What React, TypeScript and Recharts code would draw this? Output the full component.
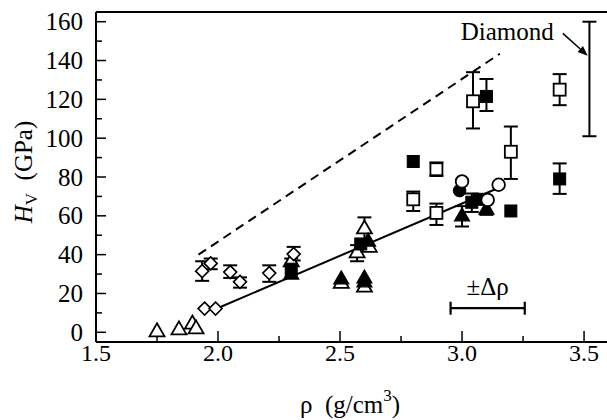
import React from 'react'
import {
  ScatterChart,
  Scatter,
  XAxis,
  YAxis,
  ErrorBar,
  ReferenceLine,
  ReferenceDot,
} from 'recharts'

const FONT = 'Times New Roman, Liberation Serif, Tinos, Nimbus Roman, DejaVu Serif, serif'
const TXT: React.CSSProperties = { fontFamily: FONT, whiteSpace: 'pre' }

// axis ticks
const X_TICKS = [1.5, 1.75, 2, 2.25, 2.5, 2.75, 3, 3.25, 3.5]
const Y_TICKS = [0, 10, 20, 30, 40, 50, 60, 70, 80, 90, 100, 110, 120, 130, 140, 150, 160]

// open diamonds with error bars
const diamondRho = [1.935, 1.97, 2.05, 2.09, 2.21, 2.31]
const diamondHv = [31.5, 35.5, 31, 26, 30.5, 40.3]
const diamondHi = [36.6, 38, 34.5, 28.3, 34.5, 44]
const diamondLo = [26.5, 32.5, 28, 23, 26, 37]
// open diamonds without error bars
const diamond2Rho = [1.945, 1.99]
const diamond2Hv = [12.2, 12.2]

// open triangles
const triRho = [1.75, 1.84, 1.895, 1.91, 2.3, 2.505, 2.6, 2.57, 2.6, 2.62]
const triHv = [0.5, 1.5, 4.5, 2, 36.5, 25.5, 23.5, 41.2, 53.5, 44]
const triHi = [null, null, null, null, null, null, null, 44.9, 59.2, null]
const triLo = [null, null, null, null, null, null, null, 36.6, 48, null]

// filled triangles
const ftriRho = [2.3, 2.505, 2.6, 2.6, 2.615, 3.0, 3.1]
const ftriHv = [30, 27.5, 28, 26, 47, 60, 63.5]
const ftriHi = [null, null, null, null, null, 65, 67]
const ftriLo = [null, null, null, null, null, 54.5, 60.5]

// open squares
const sqRho = [2.8, 2.895, 2.895, 3.045, 3.2, 3.4]
const sqHv = [68.5, 84, 61.5, 119, 93, 125]
const sqHi = [72.5, 87.5, 66.3, 134, 106, 133]
const sqLo = [62.5, 80.5, 55.3, 105, 79, 117]

// filled squares
const fsqRho = [2.3, 2.585, 2.8, 3.04, 3.07, 3.1, 3.2, 3.4]
const fsqHv = [32.5, 45.5, 88, 67, 68.5, 121.5, 62.5, 79]
const fsqHi = [38, null, null, 71.5, null, 130.5, null, 87]
const fsqLo = [28, null, null, 62, null, 114, null, 71.3]

// circles
const circRho = [3.0, 3.105, 3.15]
const circHv = [77.7, 68.2, 76]
const fcircRho = [2.99]
const fcircHv = [73]

// lines
const fitRho = [2.0, 3.17]
const fitHv = [12.5, 75.5]
const upperRho = [1.92, 3.155]
const upperHv = [40, 143.5]

// diamond range bar, density uncertainty bar
const diamondBarRho = [3.522]
const diamondBarLo = [101]
const diamondBarHi = [160]
const deltaRhoCenter = [3.105]
const deltaRhoHalf = [0.152]
const deltaRhoHv = [12.4]

const build = (
  rho: number[],
  hv: number[],
  hi?: (number | null)[],
  lo?: (number | null)[]
) =>
  rho.map((x, i) => {
    const h = hi ? hi[i] : null
    const l = lo ? lo[i] : null
    return {
      x,
      y: hv[i],
      err: h != null && l != null ? [hv[i] - l, h - hv[i]] : null,
    }
  })

const diamonds = build(diamondRho, diamondHv, diamondHi, diamondLo)
const diamonds2 = build(diamond2Rho, diamond2Hv)
const triangles = build(triRho, triHv, triHi, triLo)
const ftriangles = build(ftriRho, ftriHv, ftriHi, ftriLo)
const squares = build(sqRho, sqHv, sqHi, sqLo)
const fsquares = build(fsqRho, fsqHv, fsqHi, fsqLo)
const circles = build(circRho, circHv)
const fcircles = build(fcircRho, fcircHv)
const fitLine = build(fitRho, fitHv)
const upperLine = build(upperRho, upperHv)
const diamondBar = diamondBarRho.map((x, i) => {
  const mid = (diamondBarLo[i] + diamondBarHi[i]) / 2
  return { x, y: mid, err: [mid - diamondBarLo[i], diamondBarHi[i] - mid] }
})
const deltaBar = deltaRhoCenter.map((x, i) => ({
  x,
  y: deltaRhoHv[i],
  xerr: deltaRhoHalf[i],
}))

const STROKE = '#000'

const DiamondShape = ({ cx, cy }: any) => (
  <polygon
    points={`${cx},${cy - 6.5} ${cx + 6.5},${cy} ${cx},${cy + 6.5} ${cx - 6.5},${cy}`}
    fill="#fff"
    stroke={STROKE}
    strokeWidth={1.6}
  />
)

const triPoints = (cx: number, cy: number) =>
  `${cx},${cy - 8} ${cx + 7.5},${cy + 5} ${cx - 7.5},${cy + 5}`

const OpenTri = ({ cx, cy }: any) => (
  <polygon points={triPoints(cx, cy)} fill="#fff" stroke={STROKE} strokeWidth={1.8} />
)
const FilledTri = ({ cx, cy }: any) => (
  <polygon points={triPoints(cx, cy)} fill="#000" stroke={STROKE} strokeWidth={1.2} />
)
const OpenSq = ({ cx, cy }: any) => (
  <rect x={cx - 6} y={cy - 6} width={12} height={12} fill="#fff" stroke={STROKE} strokeWidth={1.8} />
)
const FilledSq = ({ cx, cy }: any) => (
  <rect x={cx - 6} y={cy - 6} width={12} height={12} fill="#000" stroke={STROKE} strokeWidth={1} />
)
const OpenCirc = ({ cx, cy }: any) => (
  <circle cx={cx} cy={cy} r={6.3} fill="#fff" stroke={STROKE} strokeWidth={1.8} />
)
const FilledCirc = ({ cx, cy }: any) => (
  <circle cx={cx} cy={cy} r={6.3} fill="#000" stroke={STROKE} strokeWidth={1} />
)
const NoShape = () => <g />

const XTick = (props: any) => {
  const { x, y, payload } = props
  const v = payload.value as number
  const major = Math.abs(v * 2 - Math.round(v * 2)) < 1e-6
  return (
    <g>
      <line x1={x} x2={x} y1={y} y2={y - (major ? 11 : 6)} stroke={STROKE} strokeWidth={1.5} />
      {major && (
        <text x={x} y={y + 19} textAnchor="middle" style={{ ...TXT, fontSize: 24 }} fill="#000">
          {v.toFixed(1)}
        </text>
      )}
    </g>
  )
}

const YTick = (props: any) => {
  const { x, y, payload } = props
  const v = payload.value as number
  const major = v % 20 === 0
  return (
    <g>
      <line x1={x} x2={x + (major ? 10 : 6)} y1={y} y2={y} stroke={STROKE} strokeWidth={1.5} />
      {major && (
        <text x={x - 13} y={y + 8.5} textAnchor="end" style={{ ...TXT, fontSize: 25 }} fill="#000">
          {v}
        </text>
      )}
    </g>
  )
}

const YTitle = () => (
  <text
    transform="translate(32,172) rotate(-90)"
    textAnchor="middle"
    style={{ ...TXT, fontSize: 25 }}
    fill="#000"
    stroke="none"
  >
    <tspan fontStyle="italic">H</tspan>
    <tspan fontSize={17} dy={5}>V</tspan>
    <tspan dy={-5}>{'  (GPa)'}</tspan>
  </text>
)

const XTitle = () => (
  <text x={350} y={413} textAnchor="middle" style={{ ...TXT, fontSize: 25 }} fill="#000" stroke="none">
    <tspan>{'ρ  (g/cm'}</tspan>
    <tspan fontSize={17} dy={-12}>3</tspan>
    <tspan dy={12}>)</tspan>
  </text>
)

const Arrow = (props: any) => {
  const { x1, y1, x2, y2 } = props
  const a = Math.atan2(y2 - y1, x2 - x1)
  const len = 10
  const w = 4
  const bx = x2 - len * Math.cos(a)
  const by = y2 - len * Math.sin(a)
  const px = -Math.sin(a) * w
  const py = Math.cos(a) * w
  return (
    <g>
      <line x1={x1} y1={y1} x2={bx} y2={by} stroke={STROKE} strokeWidth={1.5} />
      <polygon points={`${x2},${y2} ${bx + px},${by + py} ${bx - px},${by - py}`} fill="#000" />
    </g>
  )
}

const TextAt = (text: string) => (p: any) => (
  <text x={p.cx} y={p.cy} textAnchor="middle" style={{ ...TXT, fontSize: 25 }} fill="#000">
    {text}
  </text>
)

export default function App() {
  return (
    <div style={{ position: 'absolute', left: 0, top: 0, width: 607, height: 420, background: '#fff', fontFamily: FONT }}>
      <ScatterChart width={607} height={420} margin={{ top: 12, right: 0, bottom: 0, left: 0 }}>
        <XAxis
          type="number"
          dataKey="x"
          domain={[1.5, 3.594]}
          ticks={X_TICKS}
          allowDataOverflow
          height={78}
          axisLine={{ stroke: STROKE, strokeWidth: 2 }}
          tickLine={false}
          tickSize={0}
          tickMargin={0}
          tick={<XTick />}
          interval={0}
          label={{ content: <XTitle /> }}
        />
        <YAxis
          type="number"
          dataKey="y"
          domain={[-5, 165]}
          ticks={Y_TICKS}
          allowDataOverflow
          width={96}
          axisLine={{ stroke: STROKE, strokeWidth: 2 }}
          tickLine={false}
          tickSize={0}
          tickMargin={0}
          tick={<YTick />}
          interval={0}
          label={{ content: <YTitle /> }}
        />
        <ReferenceLine y={165} stroke={STROKE} strokeWidth={2} ifOverflow="visible" />

        <Scatter data={upperLine} line={{ stroke: STROKE, strokeWidth: 2, strokeDasharray: '9 6' }} shape={NoShape} isAnimationActive={false} />
        <Scatter data={fitLine} line={{ stroke: STROKE, strokeWidth: 2 }} shape={NoShape} isAnimationActive={false} />

        <Scatter data={diamondBar} shape={NoShape} isAnimationActive={false}>
          <ErrorBar dataKey="err" direction="y" width={7} stroke={STROKE} strokeWidth={2} />
        </Scatter>
        <Scatter data={deltaBar} shape={NoShape} isAnimationActive={false}>
          <ErrorBar dataKey="xerr" direction="x" width={6.5} stroke={STROKE} strokeWidth={2.2} />
        </Scatter>

        <Scatter data={triangles} shape={OpenTri} isAnimationActive={false}>
          <ErrorBar dataKey="err" direction="y" width={7} stroke={STROKE} strokeWidth={2} />
        </Scatter>
        <Scatter data={ftriangles} shape={FilledTri} isAnimationActive={false}>
          <ErrorBar dataKey="err" direction="y" width={7} stroke={STROKE} strokeWidth={2} />
        </Scatter>
        <Scatter data={fsquares} shape={FilledSq} isAnimationActive={false}>
          <ErrorBar dataKey="err" direction="y" width={7} stroke={STROKE} strokeWidth={2} />
        </Scatter>
        <Scatter data={diamonds} shape={DiamondShape} isAnimationActive={false}>
          <ErrorBar dataKey="err" direction="y" width={7} stroke={STROKE} strokeWidth={2} />
        </Scatter>
        <Scatter data={diamonds2} shape={DiamondShape} isAnimationActive={false} />
        <Scatter data={squares} shape={OpenSq} isAnimationActive={false}>
          <ErrorBar dataKey="err" direction="y" width={7} stroke={STROKE} strokeWidth={2} />
        </Scatter>
        <Scatter data={fcircles} shape={FilledCirc} isAnimationActive={false} />
        <Scatter data={circles} shape={OpenCirc} isAnimationActive={false} />

        <ReferenceLine
          segment={[
            { x: 3.413, y: 154 },
            { x: 3.515, y: 142.5 },
          ]}
          shape={<Arrow />}
          ifOverflow="visible"
        />
        <ReferenceDot x={3.185} y={150.5} r={0} shape={TextAt('Diamond')} ifOverflow="visible" />
        <ReferenceDot x={3.105} y={19.2} r={0} shape={TextAt('±Δρ')} ifOverflow="visible" />
      </ScatterChart>
    </div>
  )
}
